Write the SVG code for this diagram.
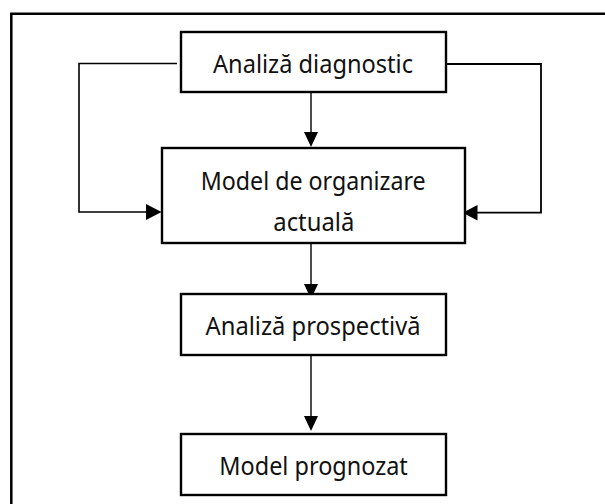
<svg xmlns="http://www.w3.org/2000/svg" width="605" height="504" viewBox="0 0 605 504">
<style>
.frame{fill:none;stroke:#000;stroke-width:2.5}
.box{fill:#fff;stroke:#000;stroke-width:2.4}
.lbl{font-family:"Noto Sans","Open Sans","Liberation Sans",sans-serif;font-size:25px;fill:#111}
.con{fill:none;stroke:#000;stroke-width:1.4}
.head{fill:#000;stroke:none}
</style>
<rect width="605" height="504" fill="#fff"/>
<path class="frame" d="M11.3,504 V13.8 H605"/>
<g id="connectors">
<path class="con" d="M311,86 V133"/>
<path class="head" d="M304,132 H318 L311,147 Z"/>
<path class="con" d="M311,232.5 V285"/>
<path class="head" d="M304,284 H318 L311,299 Z"/>
<path class="con" d="M311,349 V417"/>
<path class="head" d="M304,416 H318 L311,431 Z"/>
<path class="con" d="M177,63.5 H79 V212 H147" style="stroke-width:1.6"/>
<path class="head" d="M146,204 V220 L161.5,212 Z"/>
<path class="con" d="M443,64 H541 V212.7 H477" style="stroke-width:1.8"/>
<path class="head" d="M477.5,205 V220.4 L462.7,212.7 Z"/>
</g>
<g id="node-analiza-diagnostic">
<rect class="box" x="181" y="32" width="265" height="60"/>
<text class="lbl" x="213" y="73.3" textLength="200" lengthAdjust="spacingAndGlyphs">Analiză diagnostic</text>
</g>
<g id="node-model-actual">
<rect class="box" x="162" y="148" width="303" height="95"/>
<text class="lbl" x="200.7" y="190" textLength="225" lengthAdjust="spacingAndGlyphs">Model de organizare</text>
<text class="lbl" x="273.3" y="231" textLength="81" lengthAdjust="spacingAndGlyphs">actuală</text>
</g>
<g id="node-analiza-prospectiva">
<rect class="box" x="181" y="294" width="265" height="61"/>
<text class="lbl" x="205.6" y="335" textLength="215" lengthAdjust="spacingAndGlyphs">Analiză prospectivă</text>
</g>
<g id="node-model-prognozat">
<rect class="box" x="181" y="434" width="265" height="61"/>
<text class="lbl" x="219.3" y="475" textLength="188.5" lengthAdjust="spacingAndGlyphs">Model prognozat</text>
</g>
</svg>
